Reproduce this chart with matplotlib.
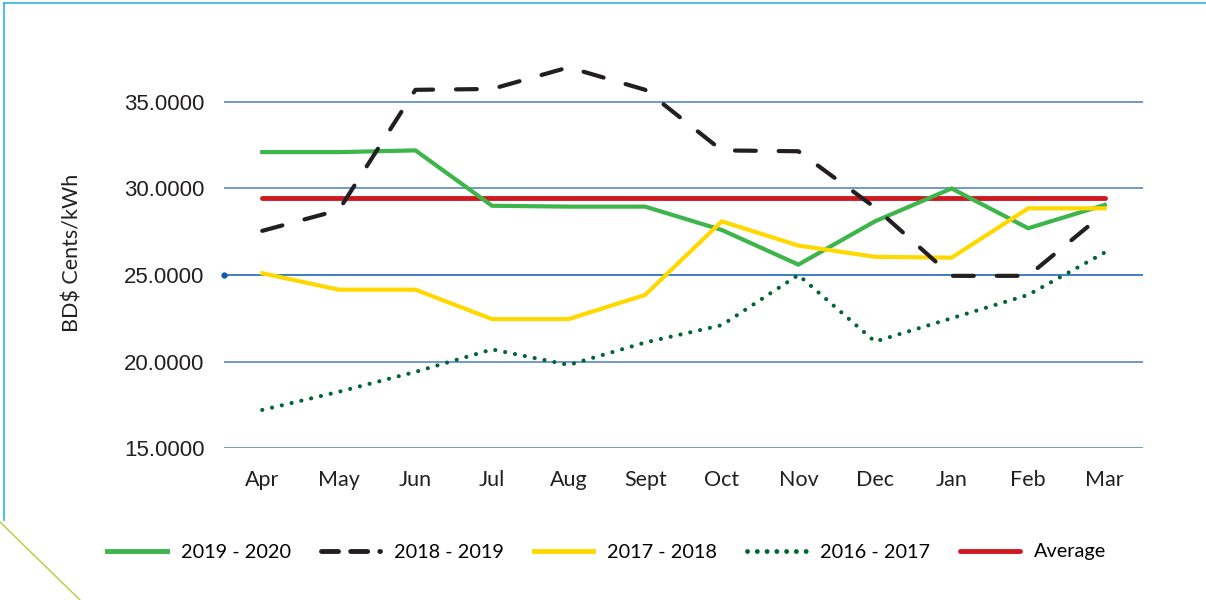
import numpy as np
import matplotlib.pyplot as plt
from matplotlib.lines import Line2D

months = ['Apr', 'May', 'Jun', 'Jul', 'Aug', 'Sept', 'Oct', 'Nov', 'Dec', 'Jan', 'Feb', 'Mar']
fy_2019_20 = [32.1, 32.1, 32.2, 29.0, 28.95, 28.95, 27.6, 25.6, 28.1, 30.0, 27.7, 29.05]
fy_2018_19 = [27.55, 28.75, 35.7, 35.75, 37.0, 35.7, 32.2, 32.15, 28.9, 24.95, 24.95, 28.6]
fy_2017_18 = [25.1, 24.15, 24.15, 22.45, 22.45, 23.85, 28.1, 26.7, 26.05, 26.0, 28.85, 28.85]
fy_2016_17 = [17.2, 18.25, 19.4, 20.7, 19.8, 21.1, 22.1, 25.0, 21.15, 22.5, 23.85, 26.3]
average = [29.45] * 12
yticks = [15, 20, 25, 30, 35]

fig = plt.figure(figsize=(12.06, 6), dpi=100)
ax = fig.add_axes([0.1857, 0.2533, 0.7621, 0.6489])
x = np.arange(len(months))

# grid lines
for t in yticks:
    col = '#0a5cb0' if t == 25 else '#4a7ebb'
    ax.axhline(t, color=col, lw=1.1, zorder=1)
ax.plot([-0.5], [25], 'o', color='#0a5cb0', ms=3.5, clip_on=False, zorder=2)

ax.plot(x, fy_2019_20, color='#3db54a', lw=3, solid_joinstyle='miter', zorder=4)
ax.plot(x, fy_2018_19, color='#231f20', lw=3, dashes=(5, 5.5),
        dash_capstyle='round', zorder=5)
ax.plot(x, fy_2017_18, color='#ffd800', lw=3, zorder=4)
ax.plot(x, fy_2016_17, color='#006633', lw=3, dashes=(0.01, 2.4),
        dash_capstyle='round', zorder=4)
ax.plot(x, average, color='#cf1820', lw=3.5, solid_capstyle='round', zorder=3)

ax.set_xlim(-0.5, 11.5)
ax.set_ylim(15, 37.5)
ax.set_yticks(yticks)
ax.set_yticklabels(['%.4f' % t for t in yticks], fontsize=16,
                   family='Liberation Sans', color='#231f20')
ax.set_xticks(x)
ax.set_xticklabels(months, fontsize=15.5, family='Lato', color='#231f20')
ax.tick_params(axis='x', length=0, pad=16)
ax.tick_params(axis='y', length=0, pad=14)
for s in ax.spines.values():
    s.set_visible(False)
ax.set_ylabel('BD$ Cents/kWh', fontsize=15.5, family='Lato', color='#231f20', labelpad=30)

handles = [
    Line2D([], [], color='#3db54a', lw=3.5),
    Line2D([], [], color='#231f20', lw=3.5, dashes=(3.5, 2.5), dash_capstyle='round'),
    Line2D([], [], color='#ffd800', lw=3.5),
    Line2D([], [], color='#006633', lw=3.5, dashes=(0.01, 2.0), dash_capstyle='round'),
    Line2D([], [], color='#cf1820', lw=3.5, solid_capstyle='round'),
]
labels = ['2019 - 2020', '2018 - 2019', '2017 - 2018', '2016 - 2017', 'Average']
fig.legend(handles, labels, loc='center', bbox_to_anchor=(0.503, 0.08), ncol=5,
           frameon=False, handlelength=3.0, columnspacing=1.5, handletextpad=0.7,
           prop={'family': 'Lato', 'size': 14.3})

# decorative frame lines
fig.add_artist(Line2D([4 / 1206, 1], [1 - 3 / 600, 1 - 3 / 600], color='#29b6e8', lw=1.2))
fig.add_artist(Line2D([4 / 1206, 4 / 1206], [1 - 3 / 600, 1 - 520 / 600], color='#29b6e8', lw=1.2))
fig.add_artist(Line2D([0, 80 / 1206], [1 - 522 / 600, 0], color='#b5cc3a', lw=1))

fig.savefig('out.png', dpi=100)
